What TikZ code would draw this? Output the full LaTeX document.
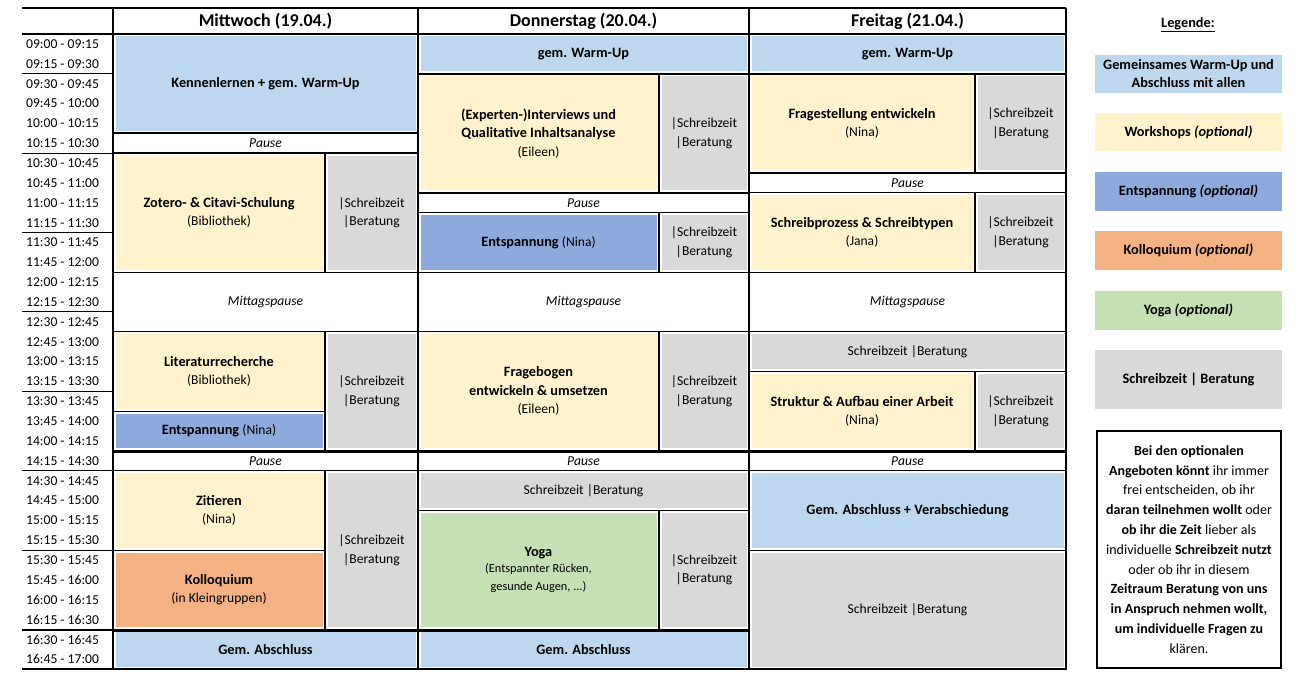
\documentclass[tikz,border=0pt]{standalone}
\usepackage{fontspec}
\setmainfont{Carlito}
\definecolor{wu}{HTML}{BDD7EE}
\definecolor{ws}{HTML}{FFF2CC}
\definecolor{en}{HTML}{8EA9DB}
\definecolor{ko}{HTML}{F4B183}
\definecolor{yo}{HTML}{C5E0B4}
\definecolor{gr}{HTML}{D9D9D9}
\newcommand{\B}{\bfseries\fontsize{14.3}{18.5}\selectfont}
\newcommand{\R}{\mdseries\fontsize{13.6}{18.5}\selectfont}
\newcommand{\blk}[7]{%
\pgfmathsetmacro\ya{34+19.85*#4}\pgfmathsetmacro\yb{34+19.85*#5}%
\fill[#6] (#2+2.5,\ya+2.5) rectangle (#3-2.5,\yb-2.5);
\draw[line width=1.1] (#2,\ya) rectangle (#3,\yb);
\node[txt] (#1) at ({(#2+#3)/2},{(\ya+\yb)/2}) {#7};}
\newcommand{\SB}{|Schreibzeit\\|Beratung}
\begin{document}
\begin{tikzpicture}[x=1pt,y=-1pt,
 txt/.style={align=center,font=\fontsize{13.6}{18.5}\selectfont,inner sep=0},
 tm/.style={anchor=west,font=\fontsize{13.6}{14}\selectfont,inner sep=0},
 lg/.style={align=center,font=\fontsize{14.3}{18}\selectfont\bfseries,inner sep=0}]
\useasboundingbox (0,0) rectangle (1300,677);
% times
\foreach \h [count=\i from 0] in {09:00 - 09:15,09:15 - 09:30,09:30 - 09:45,09:45 - 10:00,10:00 - 10:15,10:15 - 10:30,10:30 - 10:45,10:45 - 11:00,11:00 - 11:15,11:15 - 11:30,11:30 - 11:45,11:45 - 12:00,12:00 - 12:15,12:15 - 12:30,12:30 - 12:45,12:45 - 13:00,13:00 - 13:15,13:15 - 13:30,13:30 - 13:45,13:45 - 14:00,14:00 - 14:15,14:15 - 14:30,14:30 - 14:45,14:45 - 15:00,15:00 - 15:15,15:15 - 15:30,15:30 - 15:45,15:45 - 16:00,16:00 - 16:15,16:15 - 16:30,16:30 - 16:45,16:45 - 17:00}
 {\node[tm] (t\i) at (26,{44+19.85*\i}) {\h};}
\foreach \r in {2,6,10,14,18,22,26}
 {\draw[line width=1.1] (22,{34+19.85*\r}) -- (113,{34+19.85*\r});}
\draw[line width=2] (22,{34+19.85*30}) -- (113,{34+19.85*30});
% Mittwoch
\blk{m1}{113}{418}{0}{5}{wu}{\B Kennenlernen + gem. Warm-Up}
\blk{m2}{113}{418}{5}{6}{white}{\itshape Pause}
\blk{m3}{113}{325}{6}{12}{ws}{\B Zotero- \& Citavi-Schulung\\\R(Bibliothek)}
\blk{m4}{325}{418}{6}{12}{gr}{\SB}
\blk{m5}{113}{418}{12}{15}{white}{\itshape Mittagspause}
\blk{m6}{113}{325}{15}{19}{ws}{\B Literaturrecherche\\\R(Bibliothek)}
\blk{m7}{113}{325}{19}{21}{en}{\B Entspannung \R(Nina)}
\blk{m8}{325}{418}{15}{21}{gr}{\SB}
\blk{m9}{113}{418}{21}{22}{white}{\itshape Pause}
\blk{m10}{113}{325}{22}{26}{ws}{\B Zitieren\\\R(Nina)}
\blk{m11}{113}{325}{26}{30}{ko}{\B Kolloquium\\\R(in Kleingruppen)}
\blk{m12}{325}{418}{22}{30}{gr}{\SB}
\blk{m13}{113}{418}{30}{32}{wu}{\B Gem. Abschluss}
% Donnerstag
\blk{d1}{418}{749}{0}{2}{wu}{\B gem. Warm-Up}
\blk{d2}{418}{659}{2}{8}{ws}{\B (Experten-)Interviews und\\\B Qualitative Inhaltsanalyse\\\R(Eileen)}
\blk{d3}{659}{749}{2}{8}{gr}{\SB}
\blk{d4}{418}{749}{8}{9}{white}{\itshape Pause}
\blk{d5}{418}{659}{9}{12}{en}{\B Entspannung \R(Nina)}
\blk{d6}{659}{749}{9}{12}{gr}{\SB}
\blk{d7}{418}{749}{12}{15}{white}{\itshape Mittagspause}
\blk{d8}{418}{659}{15}{21}{ws}{\B Fragebogen\\\B entwickeln \& umsetzen\\\R(Eileen)}
\blk{d9}{659}{749}{15}{21}{gr}{\SB}
\blk{d10}{418}{749}{21}{22}{white}{\itshape Pause}
\blk{d11}{418}{749}{22}{24}{gr}{Schreibzeit |Beratung}
\blk{d12}{418}{659}{24}{30}{yo}{\B Yoga\\[-3pt]\fontsize{12.3}{17}\selectfont(Entspannter Rücken,\\\fontsize{12.3}{17}\selectfont gesunde Augen, ...)}
\blk{d13}{659}{749}{24}{30}{gr}{\SB}
\blk{d14}{418}{749}{30}{32}{wu}{\B Gem. Abschluss}
% Freitag
\blk{f1}{749}{1066}{0}{2}{wu}{\B gem. Warm-Up}
\blk{f2}{749}{975}{2}{7}{ws}{\B Fragestellung entwickeln\\\R(Nina)}
\blk{f3}{975}{1066}{2}{7}{gr}{\SB}
\blk{f4}{749}{1066}{7}{8}{white}{\itshape Pause}
\blk{f5}{749}{975}{8}{12}{ws}{\B Schreibprozess \& Schreibtypen\\\R(Jana)}
\blk{f6}{975}{1066}{8}{12}{gr}{\SB}
\blk{f7}{749}{1066}{12}{15}{white}{\itshape Mittagspause}
\blk{f8}{749}{1066}{15}{17}{gr}{Schreibzeit |Beratung}
\blk{f9}{749}{975}{17}{21}{ws}{\B Struktur \& Aufbau einer Arbeit\\\R(Nina)}
\blk{f10}{975}{1066}{17}{21}{gr}{\SB}
\blk{f11}{749}{1066}{21}{22}{white}{\itshape Pause}
\blk{f12}{749}{1066}{22}{26}{wu}{\B Gem. Abschluss + Verabschiedung}
\blk{f13}{749}{1066}{26}{32}{gr}{Schreibzeit |Beratung}
% headers
\node[font=\fontsize{18}{20}\selectfont\bfseries] (h1) at (265.5,21) {Mittwoch (19.04.)};
\node[font=\fontsize{18}{20}\selectfont\bfseries] (h2) at (583.5,21) {Donnerstag (20.04.)};
\node[font=\fontsize{18}{20}\selectfont\bfseries] (h3) at (907.5,21) {Freitag (21.04.)};
% frame
\draw[line width=2.5] (22,8) -- (1066,8);
\draw[line width=2.5] (22,34) -- (1066,34);
\draw[line width=2.5] (22,669) -- (1066,669);
\foreach \x in {113,418,749,1066} {\draw[line width=2.5] (\x,8) -- (\x,669);}
\foreach \x/\a/\b in {113/418/133.25,113/418/153.1,113/418/451.9,113/418/630.5,418/749/73.7,418/749/192.8,418/749/451.9,418/749/630.5,749/1066/73.7,749/1066/451.9}
 {\draw[line width=2] (\x,\b) -- (\a,\b);}
% legend
\node[lg] (lt) at (1188,25) {\underline{Legende:}};
\foreach \n/\ya/\yb/\c/\t in {a/55/93/wu/{Gemeinsames Warm-Up und\\Abschluss mit allen},b/113/151/ws/{Workshops \itshape(optional)},c/172/211/en/{Entspannung \itshape(optional)},d/231/270/ko/{Kolloquium \itshape(optional)},e/291/330/yo/{Yoga \itshape(optional)},f/350/409/gr/{Schreibzeit | Beratung}}
 {\fill[\c] (1095,\ya) rectangle (1282,\yb);
  \node[lg] (l\n) at (1188.5,{(\ya+\yb)/2}) {\t};}
\draw[line width=1.6] (1097,431) rectangle (1281,668);
\node[lg,font=\fontsize{14}{19.8}\selectfont\bfseries] (note) at (1189,549.5) {Bei den optionalen\\Angeboten könnt \mdseries ihr immer\\\mdseries frei entscheiden, ob ihr\\daran teilnehmen wollt \mdseries oder\\ob ihr die Zeit \mdseries lieber als\\\mdseries individuelle \bfseries Schreibzeit nutzt\\\mdseries oder ob ihr in diesem\\Zeitraum Beratung von uns\\in Anspruch nehmen wollt,\\um individuelle Fragen zu\\\mdseries klären.};
\end{tikzpicture}
\end{document}
